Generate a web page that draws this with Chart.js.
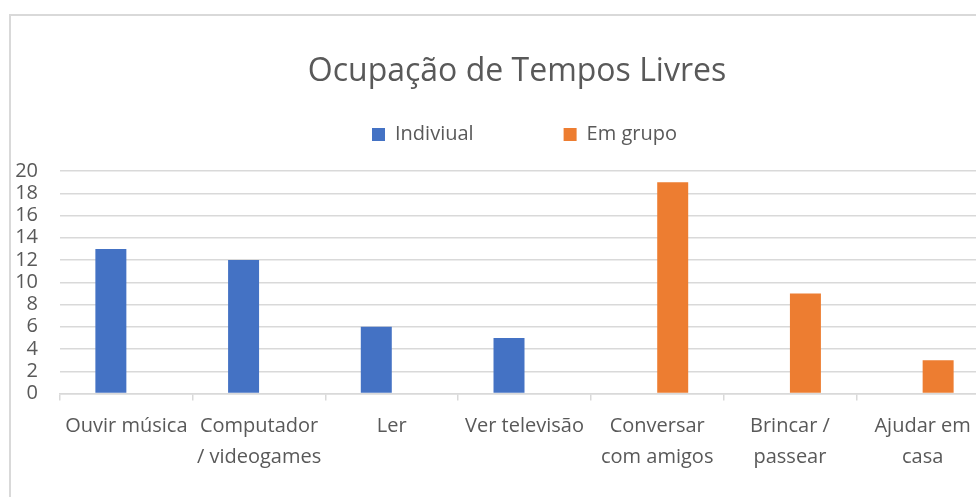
<!DOCTYPE html>
<html>
<head>
<meta charset="utf-8">
<script src="https://cdn.jsdelivr.net/npm/chart.js@4.4.0/dist/chart.umd.min.js"></script>
<style>
    html, body { margin: 0; padding: 0; background: #fff; overflow: hidden; }
    body { width: 976px; height: 497px; position: relative; }
    #frame { position: absolute; left: 9px; top: 14px; width: 1100px; height: 600px; border: 2px solid #d9d9d9; box-sizing: border-box; }
    #graphic { position: absolute; left: 10px; top: 15px; }
</style>
</head>
<body>
<div id="frame"></div>
<canvas id="graphic" width="1030" height="490"></canvas>
<script>
const categories = [
    ['Ouvir música'],
    ['Computador', '/ videogames'],
    ['Ler'],
    ['Ver televisão'],
    ['Conversar', 'com amigos'],
    ['Brincar /', 'passear'],
    ['Ajudar em', 'casa']
];
const individual = [13, 12, 6, 5, null, null, null];
const emGrupo = [null, null, null, null, 19, 9, 3];
const yTicks = { min: 0, max: 20, step: 2 };

const textColor = '#595959';
const gridColor = '#d9d9d9';
const fontFamily = '"Open Sans", "DejaVu Sans", sans-serif';

const graphic = document.getElementById('graphic');

new Chart(graphic, {
    type: 'bar',
    data: {
        labels: categories,
        datasets: [
            {
                label: 'Indiviual',
                data: individual,
                backgroundColor: '#4472C4',
                borderWidth: 0
            },
            {
                label: 'Em grupo',
                data: emGrupo,
                backgroundColor: '#ED7D31',
                borderWidth: 0
            }
        ]
    },
    options: {
        responsive: false,
        maintainAspectRatio: false,
        animation: false,
        devicePixelRatio: 1,
        layout: { padding: { left: 0, right: 16, top: 0, bottom: 0 } },
        datasets: {
            bar: { barPercentage: 1, categoryPercentage: 0.467 }
        },
        plugins: {
            title: {
                display: true,
                text: 'Ocupação de Tempos Livres',
                color: textColor,
                font: { family: fontFamily, size: 32, weight: 'normal', lineHeight: 1.2 },
                padding: { top: 38, bottom: -56.9 }
            },
            legend: {
                display: true,
                position: 'top',
                fullSize: false,
                labels: {
                    color: textColor,
                    font: { family: fontFamily, size: 20 },
                    boxWidth: 13,
                    boxHeight: 13,
                    padding: 90
                }
            },
            subtitle: {
                // spacer between legend and plot
                display: true,
                text: '',
                weight: 500,
                font: { size: 10, lineHeight: 1 },
                padding: { top: 6.5, bottom: 0 }
            },
            tooltip: { enabled: false }
        },
        scales: {
            x: {
                afterFit: (scale) => { scale.height = 111.5; },
                grid: {
                    display: true,
                    drawOnChartArea: false,
                    drawTicks: true,
                    tickLength: 7,
                    color: gridColor,
                    lineWidth: 1.5,
                    offset: true
                },
                border: { display: true, color: gridColor, width: 1.5 },
                ticks: {
                    color: textColor,
                    font: { family: fontFamily, size: 20, lineHeight: 1.55 },
                    maxRotation: 0,
                    autoSkip: false,
                    padding: 10
                }
            },
            y: {
                min: yTicks.min,
                max: yTicks.max,
                afterFit: (scale) => { scale.width = 50; },
                grid: {
                    color: gridColor,
                    lineWidth: 1.5,
                    drawTicks: false
                },
                border: { display: false },
                ticks: {
                    stepSize: yTicks.step,
                    autoSkip: false,
                    color: textColor,
                    font: { family: fontFamily, size: 20, lineHeight: 1 },
                    padding: 22
                }
            },
            // empty right-hand strip so the title centre matches the original frame
            yRight: {
                position: 'right',
                display: true,
                afterFit: (scale) => { scale.width = 35; },
                grid: { display: false },
                border: { display: false },
                ticks: { display: false }
            }
        }
    }
});
</script>
</body>
</html>
